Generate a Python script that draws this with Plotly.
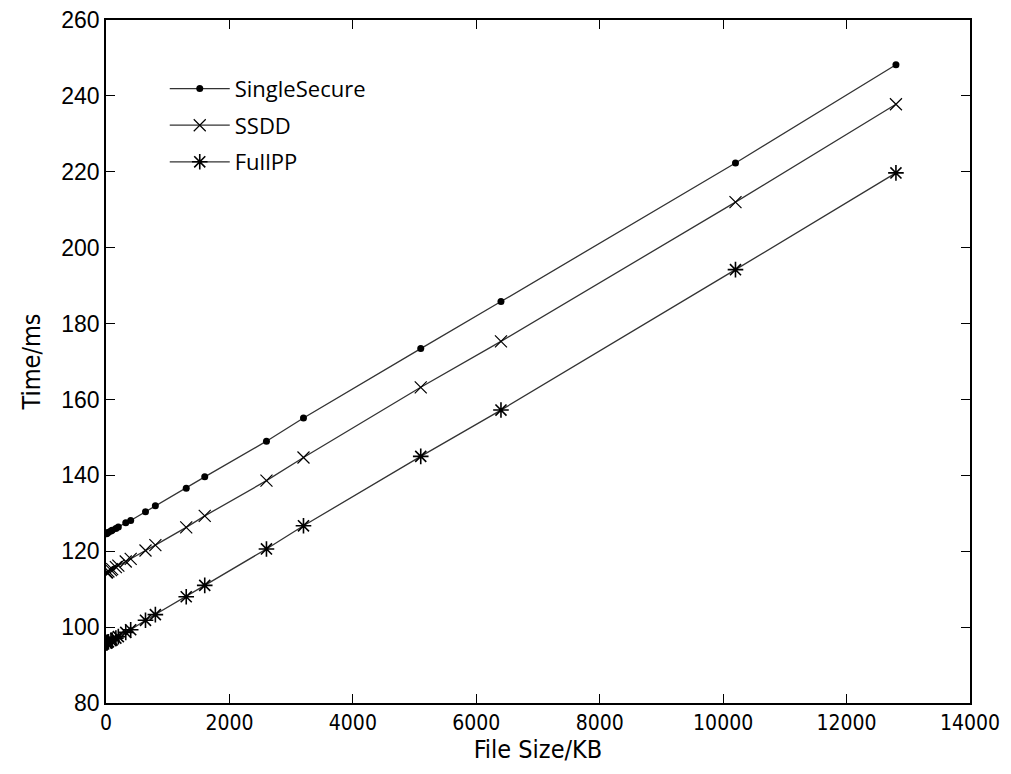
import plotly.graph_objects as go

file_size_kb = [10, 20, 40, 80, 100, 160, 200, 320, 400, 640, 800, 1300, 1600,
                2600, 3200, 5100, 6400, 10200, 12800]
single_secure = [124.6, 124.8, 125.0, 125.3, 125.5, 126.0, 126.4, 127.5, 128.1,
                 130.4, 132.0, 136.6, 139.6, 149.0, 155.1, 173.4, 185.8, 222.3, 248.2]
ssdd = [114.4, 114.5, 114.7, 115.0, 115.3, 115.8, 116.2, 117.3, 118.0,
        120.2, 121.6, 126.3, 129.3, 138.6, 144.7, 163.2, 175.3, 212.0, 237.8]
full_pp = [95.8, 95.9, 96.1, 96.4, 96.6, 97.1, 97.5, 98.6, 99.3,
           101.8, 103.3, 108.0, 111.0, 120.6, 126.7, 145.0, 157.2, 194.2, 219.7]

x_ticks = [0, 2000, 4000, 6000, 8000, 10000, 12000, 14000]
y_ticks = [80, 100, 120, 140, 160, 180, 200, 220, 240, 260]

narrow = "DejaVu Sans Condensed, Liberation Sans, sans-serif"
line_col = "#333333"
fig = go.Figure()
fig.add_trace(go.Scatter(
    x=file_size_kb, y=single_secure, name="SingleSecure", mode="lines+markers",
    legendgroup="a",
    line=dict(color=line_col, width=1.3),
    marker=dict(symbol="circle", size=7, color="black")))
fig.add_trace(go.Scatter(
    x=file_size_kb, y=ssdd, name="SSDD", mode="lines+markers",
    legendgroup="b",
    line=dict(color=line_col, width=1.3),
    marker=dict(symbol="x-thin-open", size=12, color="black",
                line=dict(width=1.2, color="black"))))
fig.add_trace(go.Scatter(
    x=file_size_kb, y=full_pp, name="FullPP", mode="lines+markers",
    legendgroup="c",
    line=dict(color=line_col, width=1.3),
    marker=dict(symbol="asterisk-open", size=13, color="black",
                line=dict(width=1.6, color="black"))))

axis_common = dict(
    showline=True, linecolor="black", linewidth=1.5, mirror="ticks",
    ticks="inside", ticklen=9, tickwidth=1.2, tickcolor="black",
    showgrid=False, zeroline=False, automargin=False,
    ticklabeloverflow="allow",
)
fig.update_xaxes(
    range=[0, 14000], tickvals=x_ticks, ticktext=[str(v) for v in x_ticks],
    tickfont=dict(family=narrow, size=21, color="black"),
    title=dict(text="File Size/KB",
               font=dict(family=narrow, size=25, color="black"),
               standoff=4),
    **axis_common)
fig.update_yaxes(
    range=[80, 260], tickvals=y_ticks, ticktext=[str(v) for v in y_ticks],
    tickfont=dict(family="Liberation Sans, Arial, sans-serif", size=23, color="black"),
    title=dict(text="Time/ms",
               font=dict(family=narrow, size=25, color="black"),
               standoff=14),
    **axis_common)

fig.update_layout(
    width=1011, height=774,
    margin=dict(l=98, r=49, t=12, b=79),
    paper_bgcolor="white", plot_bgcolor="white",
    showlegend=True,
    legend=dict(x=0.068, y=0.93, xanchor="left", yanchor="top",
                bgcolor="rgba(0,0,0,0)", borderwidth=0,
                font=dict(family="Open Sans", size=22, color="black"),
                tracegroupgap=5, itemwidth=60),
)

fig.write_html("out.html")
